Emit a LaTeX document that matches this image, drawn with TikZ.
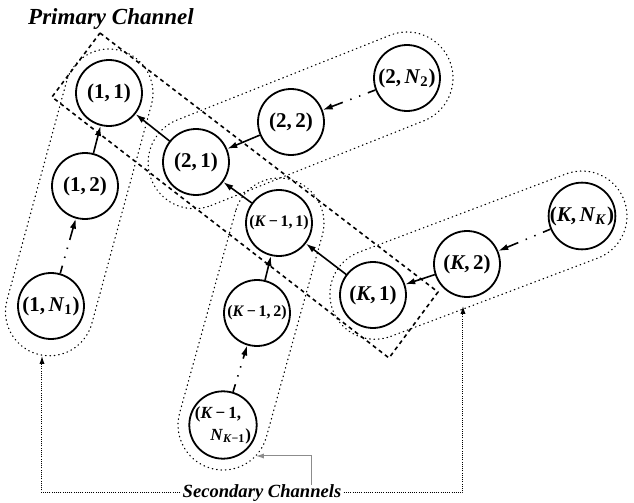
\documentclass[tikz,border=0pt]{standalone}
\usepackage{fontspec}
\setmainfont{Liberation Serif}
\usetikzlibrary{calc,arrows.meta,backgrounds}
\newcommand{\stadium}[5]{%
 \draw[encl] let \p1=($(#1)!-#4!(#2)$), \p2=($(#2)!-#5!(#1)$), \n1={atan2(\y2-\y1,\x2-\x1)} in
 ($(\p1)+(\n1-90:#3)$) -- ($(\p2)+(\n1-90:#3)$) arc[start angle=\n1-90, delta angle=180, radius=#3]
 -- ($(\p1)+(\n1+90:#3)$) arc[start angle=\n1+90, delta angle=180, radius=#3] -- cycle;}
\begin{document}
\begin{tikzpicture}[x=0.5pt,y=0.5pt,
  nd/.style={circle, draw, line width=0.9pt, fill=white, minimum size=33pt, inner sep=0pt, font=\fontsize{10.5}{12}\selectfont\bfseries},
  nds/.style={nd, font=\fontsize{8}{9}\selectfont\bfseries},
  arr/.style={line width=0.8pt, -{Latex[length=5pt,width=3.2pt]}},
  darr/.style={arr, dash pattern=on 4pt off 4pt on 0.7pt off 4pt on 0.7pt off 4pt on 60pt},
  encl/.style={line width=0.6pt, dash pattern=on 0.3pt off 1.9pt, line cap=round},
  prim/.style={line width=0.8pt, dash pattern=on 2pt off 1.8pt},
  secd/.style={line width=0.5pt, dash pattern=on 0.5pt off 0.6pt, -{Latex[length=4pt,width=2.6pt]}},
  secg/.style={line width=0.5pt, draw=black!45, -{Latex[length=4pt,width=2.6pt]}},
  lbl/.style={inner sep=1pt, font=\bfseries\itshape}
]
\useasboundingbox (0,0) rectangle (634,-503);

\node[lbl, font=\fontsize{11.5}{13}\selectfont\bfseries\itshape] (primlbl) at (111,-19) {Primary Channel};
\node[lbl, font=\fontsize{9.3}{11}\selectfont\bfseries\itshape] (sec) at (262,-493) {Secondary Channels};

\node[nd] (n11) at (109,-93) {(1,\,1)};
\node[nd] (n12) at (85,-186) {(1,\,2)};
\node[nd] (n1N) at (51,-306) {(1,\,\textit{N}\textsubscript{1})};
\node[nd] (n21) at (196,-162) {(2,\,1)};
\node[nd] (n22) at (291,-122) {(2,\,2)};
\node[nd] (n2N) at (407,-78) {(2,\,\textit{N}\textsubscript{2})};
\node[nds] (nk11) at (279,-223) {(\textit{K}\,−\,1,\,1)};
\node[nds] (nk12) at (257,-313) {(\textit{K}\,−\,1,\,2)};
\node[nd, font=\fontsize{8.5}{11}\selectfont\bfseries, align=left] (nk1N) at (223,-425) {(\textit{K}\,−\,1,\\\hspace{0.9em}\textit{N}\textsubscript{\textit{K}−1})};
\node[nd] (nK1) at (373,-295) {(\textit{K},\,1)};
\node[nd] (nK2) at (467,-264) {(\textit{K},\,2)};
\node[nd] (nKN) at (582,-216) {(\textit{K},\,\textit{N}\textsubscript{\textit{K}})};

\begin{pgfonlayer}{background}
\stadium{n11}{n1N}{22pt}{0pt}{3pt}
\stadium{n21}{n2N}{23pt}{1pt}{0pt}
\stadium{nk11}{nk1N}{22.5pt}{0pt}{0pt}
\stadium{nK1}{nKN}{22.5pt}{-1pt}{0pt}
\draw[prim] (100,-33) -- (438,-292) -- (389,-358) -- (52,-97) -- cycle;
\end{pgfonlayer}

\draw[arr] (n21) -- (n11);
\draw[arr] (nk11) -- (n21);
\draw[arr] (nK1) -- (nk11);
\draw[arr] (n12) -- (n11);
\draw[arr] (n22) -- (n21);
\draw[arr] (nk12) -- (nk11);
\draw[arr] (nK2) -- (nK1);
\draw[darr] (n1N) -- (n12);
\draw[darr] (n2N) -- (n22);
\draw[darr] (nk1N) -- (nk12);
\draw[darr] (nKN) -- (nK2);

\coordinate (t1) at (42,-356);
\coordinate (tK) at (463,-306);
\coordinate (tm) at (256,-456);
\coordinate (sm) at (312,-485);
\draw[secd] (sec.west) -| (t1);
\draw[secd] (sec.east) -| (tK);
\draw[secg] (sm) |- (tm);
\end{tikzpicture}
\end{document}
